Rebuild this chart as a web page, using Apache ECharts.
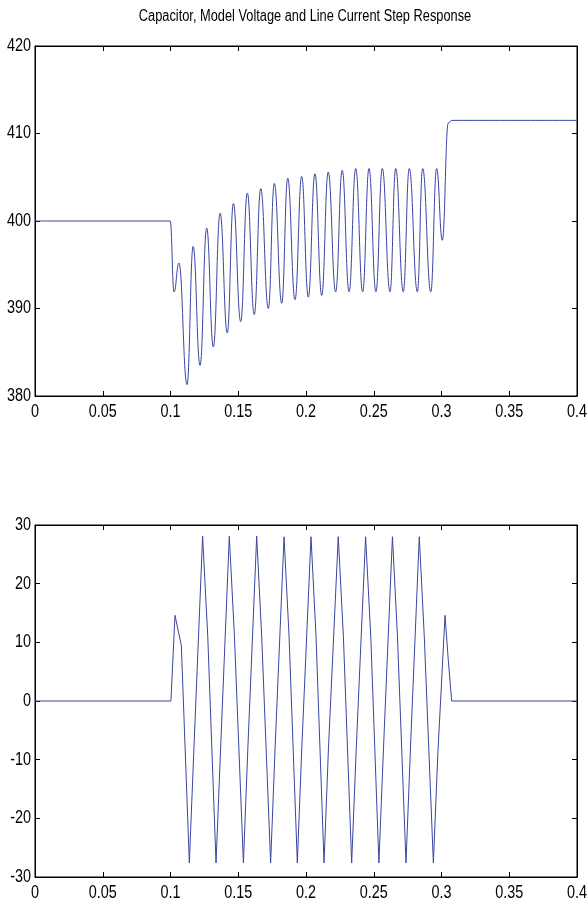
<!doctype html>
<html lang="en">
<head>
	<meta charset="utf-8" />
	<title>Capacitor, Model Voltage and Line Current Step Response</title>
	<script src="https://cdn.jsdelivr.net/npm/echarts@6/dist/echarts.min.js"></script>
	<style>
		html, body { margin: 0; padding: 0; background: #fff; }
		#main { width: 587px; height: 909px; }
	</style>
</head>
<body>
	<div id="main"></div>
	<script>
		// tick values
		var xTicks = [0, 0.05, 0.1, 0.15, 0.2, 0.25, 0.3, 0.35, 0.4];
		var voltTicks = [380, 390, 400, 410, 420];
		var currTicks = [-30, -20, -10, 0, 10, 20, 30];

		// capacitor voltage (top)
		var voltTime = [0, 0.0998,
			0.1026, 0.1062, 0.1122, 0.1167, 0.1218, 0.1267, 0.1316, 0.1366, 0.1419, 0.1464,
			0.1518, 0.1567, 0.1618, 0.1666, 0.1722, 0.1766, 0.1821, 0.1865, 0.1919, 0.1968,
			0.2017, 0.2066, 0.2116, 0.2164, 0.2219, 0.2267, 0.2318, 0.2367, 0.2418, 0.2465,
			0.2516, 0.2563, 0.2620, 0.2662, 0.2718, 0.2762, 0.2822, 0.2861, 0.2921, 0.2964,
			0.3006, 0.3050, 0.3075, 0.4];
		var voltValue = [400, 400,
			391.9, 395.2, 381.3, 397.1, 383.5, 399.2, 385.6, 400.9, 387.2, 402.0,
			388.5, 403.2, 389.3, 403.7, 390.0, 404.3, 390.6, 404.9, 391.0, 405.1,
			391.3, 405.4, 391.5, 405.6, 391.9, 405.8, 391.9, 406.0, 391.9, 406.0,
			391.9, 406.0, 391.9, 406.0, 391.9, 406.0, 391.9, 406.0, 391.9, 406.0,
			397.8, 411.2, 411.5, 411.5];

		// line current (bottom)
		var currTime = [0, 0.1003,
			0.1033, 0.1080, 0.1139, 0.1173,
			0.1237, 0.1275, 0.1336, 0.1370,
			0.1434, 0.1472, 0.1538, 0.1571,
			0.1636, 0.1673, 0.1739, 0.1772,
			0.1838, 0.1875, 0.1936, 0.1969,
			0.2037, 0.2074, 0.2133, 0.2166,
			0.2238, 0.2276, 0.2337, 0.2371,
			0.2440, 0.2478, 0.2538, 0.2572,
			0.2638, 0.2675, 0.2738, 0.2771,
			0.2836, 0.2873, 0.2940, 0.2973,
			0.3026, 0.3050, 0.3075, 0.4];
		var currValue = [0, 0,
			14.6, 9.5, -27.6, -8,
			28.1, 11, -27.6, -8,
			28.1, 11, -27.6, -8,
			28.1, 11, -27.6, -8,
			28.0, 11, -27.6, -8,
			28.0, 11, -27.6, -8,
			28.0, 11, -27.6, -8,
			28.0, 11, -27.6, -8,
			28.0, 11, -27.6, -8,
			28.0, 11, -27.6, -9,
			14.6, 7, 0, 0];

		function zip(xs, ys) {
			var out = [];
			for (var i = 0; i < xs.length; i++) out.push([xs[i], ys[i]]);
			return out;
		}

		var FONT = "'Liberation Sans', Arial, sans-serif";
		var LINE = '#3a45a0';
		var SQUEEZE = 0.8;   // the original uses a condensed face

		function fmtX(v) { return String(+v.toFixed(2)); }

		function xAxisPair(gi) {
			return ['bottom', 'top'].map(function (pos) {
				return {
					type: 'value', gridIndex: gi, position: pos,
					min: xTicks[0], max: xTicks[xTicks.length - 1], interval: 0.05,
					axisLine: { onZero: false, lineStyle: { color: '#000', width: 1 } },
					axisTick: { inside: true, length: 5, lineStyle: { color: '#000' } },
					axisLabel: { show: false },
					splitLine: { show: false }
				};
			});
		}

		function yAxisPair(gi, ticks) {
			var lo = ticks[0], hi = ticks[ticks.length - 1];
			return ['left', 'right'].map(function (pos) {
				return {
					type: 'value', gridIndex: gi, position: pos,
					min: lo, max: hi, interval: 10,
					axisLine: { show: true, onZero: false, lineStyle: { color: '#000', width: 1 } },
					axisTick: { show: true, inside: true, length: 5, lineStyle: { color: '#000' } },
					axisLabel: { show: false },
					splitLine: { show: false }
				};
			});
		}

		var chart = echarts.init(document.getElementById('main'), null, { renderer: 'canvas' });

		chart.setOption({
			animation: false,
			backgroundColor: '#fff',
			grid: [
				{ left: 35, right: 10, top: 46, height: 350, show: true, borderColor: '#000', borderWidth: 1 },
				{ left: 35, right: 10, top: 525, height: 352, show: true, borderColor: '#000', borderWidth: 1 }
			],
			xAxis: xAxisPair(0).concat(xAxisPair(1)),
			yAxis: yAxisPair(0, voltTicks).concat(yAxisPair(1, currTicks)),
			series: [{
				type: 'line', xAxisIndex: 0, yAxisIndex: 0,
				data: zip(voltTime, voltValue),
				showSymbol: false, smooth: 0.45, smoothMonotone: 'x',
				lineStyle: { color: LINE, width: 1 }
			}, {
				type: 'line', xAxisIndex: 2, yAxisIndex: 2,
				data: zip(currTime, currValue),
				showSymbol: false,
				lineStyle: { color: LINE, width: 1 }
			}]
		});

		// tick labels as condensed text, placed through the axes' own scales
		function label(text, x, y, align, vAlign) {
			return {
				type: 'text', x: x, y: y, scaleX: SQUEEZE, silent: true,
				style: { text: text, fill: '#000', font: '18px ' + FONT, align: align, verticalAlign: vAlign }
			};
		}

		var graphics = [{
			type: 'text', x: 305, y: 17, scaleX: SQUEEZE, silent: true,
			style: {
				text: 'Capacitor, Model Voltage and Line Current Step Response',
				fill: '#000', font: '16px ' + FONT, align: 'center', verticalAlign: 'middle'
			}
		}];

		[[0, 0, voltTicks], [2, 2, currTicks]].forEach(function (g) {
			var xi = g[0], yi = g[1], yt = g[2];
			var yBase = chart.convertToPixel({ yAxisIndex: yi }, yt[0]);
			var xLeft = chart.convertToPixel({ xAxisIndex: xi }, xTicks[0]);
			xTicks.forEach(function (v) {
				graphics.push(label(fmtX(v), chart.convertToPixel({ xAxisIndex: xi }, v), yBase + 7, 'center', 'top'));
			});
			yt.forEach(function (v) {
				graphics.push(label(String(v), xLeft - 4, chart.convertToPixel({ yAxisIndex: yi }, v), 'right', 'middle'));
			});
		});

		chart.setOption({ graphic: graphics });
	</script>
</body>
</html>
